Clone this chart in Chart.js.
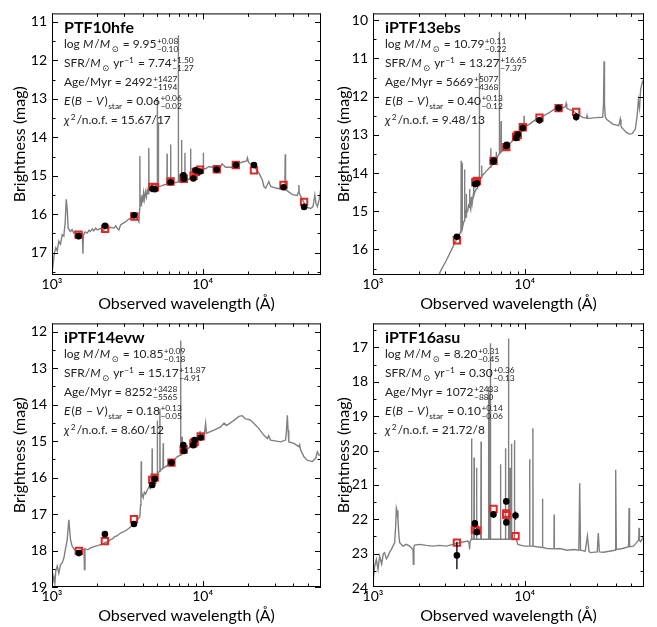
<!DOCTYPE html>
<html>
<head>
<meta charset="utf-8">
<script src="https://cdn.jsdelivr.net/npm/chart.js@4.4.1/dist/chart.umd.min.js"></script>
<style>
  body { margin: 0; background: #fff; }
  #wrap { position: relative; width: 657px; height: 627px; overflow: hidden; }
  canvas { position: absolute; }
</style>
</head>
<body>
<div id="wrap">
  <canvas id="c1"></canvas>
  <canvas id="c2"></canvas>
  <canvas id="c3"></canvas>
  <canvas id="c4"></canvas>
</div>
<script>
// --- fit parameters shown in each panel ---
const panelNames = ['PTF10hfe', 'iPTF13ebs', 'iPTF14evw', 'iPTF16asu'];
const logMass = [['9.95', '+0.08', '−0.10'], ['10.79', '+0.11', '−0.22'], ['10.85', '+0.09', '−0.18'], ['8.20', '+0.31', '−0.45']];
const sfr = [['7.74', '+1.50', '−1.27'], ['13.27', '+16.65', '−7.37'], ['15.17', '+11.87', '−4.91'], ['0.30', '+0.36', '−0.13']];
const age = [['2492', '+1427', '−1194'], ['5669', '+5077', '−4368'], ['8252', '+3428', '−5565'], ['1072', '+2433', '−880']];
const ebv = [['0.06', '+0.06', '−0.02'], ['0.40', '+0.13', '−0.12'], ['0.18', '+0.13', '−0.05'], ['0.10', '+0.14', '−0.06']];
const chi2 = ['15.67/17', '9.48/13', '8.60/12', '21.72/8'];

// --- tick labels ---
const xTickValues = [1000, 10000];
const xTickLabels = ['10³', '10⁴'];
const yTicks1 = [11, 12, 13, 14, 15, 16, 17];
const yTicks2 = [10, 11, 12, 13, 14, 15, 16];
const yTicks3 = [12, 13, 14, 15, 16, 17, 18, 19];
const yTicks4 = [17, 18, 19, 20, 21, 22, 23, 24];

// --- observed photometry [wavelength, mag, err] ---
const obs1 = [[1500, 16.57, 0.08], [2250, 16.30, 0.07], [3500, 16.03, 0.03], [4650, 15.34, 0.03], [4820, 15.35, 0.03],
  [6120, 15.17, 0.03], [7450, 14.99, 0.04], [7500, 15.08, 0.03], [8680, 15.07, 0.03], [8980, 14.86, 0.03],
  [9600, 14.89, 0.03], [12400, 14.84, 0.04], [16600, 14.72, 0.04], [21900, 14.72, 0.08], [34400, 15.30, 0.07], [47100, 15.81, 0.07]];
const obs2 = [[3570, 15.67, 0.04], [4720, 14.29, 0.03], [4830, 14.27, 0.03], [6220, 13.70, 0.03], [6250, 13.67, 0.03],
  [7550, 13.30, 0.03], [7600, 13.26, 0.03], [8770, 13.08, 0.03], [8990, 12.99, 0.03], [9700, 12.82, 0.03],
  [12500, 12.62, 0.07], [16700, 12.30, 0.08], [21800, 12.53, 0.1]];
const obs3 = [[1507, 18.07, 0.08], [2244, 17.55, 0.07], [3500, 17.27, 0.05], [4630, 16.20, 0.04], [4800, 16.03, 0.04],
  [6200, 15.59, 0.03], [7440, 15.11, 0.03], [7510, 15.27, 0.03], [8670, 15.11, 0.03], [8850, 14.97, 0.03], [9700, 14.90, 0.03]];
const obs4 = [[3570, 23.05, 0.4], [4690, 22.12, 0.1], [4830, 22.37, 0.1], [6220, 21.86, 0.1], [7550, 21.48, 0.08],
  [7560, 22.09, 0.08], [8690, 21.89, 0.12]];

// --- model photometry [wavelength, mag] ---
const mod1 = [[1500, 16.53], [2250, 16.38], [3520, 16.06], [4650, 15.29], [4820, 15.30], [6120, 15.15], [7450, 15.07],
  [7500, 15.08], [8700, 15.00], [9000, 14.90], [9600, 14.84], [12400, 14.83], [16600, 14.72], [21900, 14.86], [34400, 15.24], [47100, 15.68]];
const mod2 = [[3570, 15.76], [4720, 14.24], [4830, 14.21], [6220, 13.68], [7550, 13.32], [8770, 13.05], [8990, 13.00],
  [9700, 12.80], [12500, 12.55], [16700, 12.30], [21800, 12.40]];
const mod3 = [[1507, 18.01], [2244, 17.74], [3500, 17.14], [4630, 16.06], [4800, 16.00], [6200, 15.59], [7480, 15.23],
  [8670, 15.06], [8850, 15.02], [9700, 14.87]];
const mod4 = [[3570, 22.68], [4690, 22.30], [4830, 22.33], [6220, 21.70], [7550, 21.83], [7560, 21.88], [8690, 22.49]];

// --- best-fit model spectra [wavelength, mag] ---
const spec1 = [[1000, 17.55], [1018, 17.28], [1039, 16.99], [1060, 16.87], [1083, 16.95], [1110, 16.70], [1139, 16.78], [1169, 16.53],
  [1198, 16.57], [1224, 16.20], [1243, 15.61], [1262, 15.86], [1281, 16.37], [1327, 16.45], [1360, 16.40], [1395, 16.49], [1430, 16.44],
  [1470, 16.53], [1510, 16.47], [1546, 16.55], [1590, 16.50], [1603, 17.03], [1616, 16.55], [1660, 16.46], [1713, 16.49], [1760, 16.42],
  [1800, 16.45], [1850, 16.38], [1895, 16.43], [1950, 16.36], [2000, 16.41], [2100, 16.37], [2200, 16.42], [2280, 16.35], [2330, 16.39],
  [2450, 16.34], [2580, 16.36], [2650, 16.30], [2700, 16.36], [2780, 16.41], [2851, 16.28], [2950, 16.24], [3077, 16.20], [3200, 16.14],
  [3322, 16.10], [3500, 16.05], [3600, 16.08], [3680, 16.12], [3775, 16.20], [3815, 15.86], [3830, 14.49], [3845, 15.75], [3880, 15.55],
  [3920, 15.80], [3960, 15.50], [4000, 15.70], [4050, 15.45], [4100, 15.62], [4170, 15.42], [4230, 15.55], [4290, 15.37], [4350, 15.47],
  [4380, 15.40], [4395, 14.28], [4410, 15.40], [4513, 15.32], [4600, 15.40], [4740, 15.28], [4850, 15.34], [4985, 15.30], [5000, 12.98],
  [5015, 15.30], [5068, 15.28], [5082, 13.61], [5096, 15.28], [5300, 15.27], [5500, 15.24], [5790, 15.22], [5805, 14.43], [5820, 15.22],
  [5950, 15.22], [6110, 15.20], [6127, 14.19], [6144, 15.20], [6440, 15.18], [6700, 15.17], [6880, 15.16], [6895, 11.35], [6910, 15.16],
  [7140, 15.15], [7228, 15.14], [7245, 14.07], [7262, 15.14], [7605, 15.12], [7625, 14.40], [7645, 15.12], [7900, 15.11], [8298, 15.06],
  [8318, 14.30], [8338, 15.05], [8530, 14.99], [9000, 14.92], [9692, 14.86], [10070, 14.82], [10100, 14.40], [10130, 14.82], [10462, 14.82],
  [11000, 14.76], [11560, 14.78], [12200, 14.80], [12900, 14.82], [13450, 14.69], [14204, 14.78], [15600, 14.78], [17100, 14.69],
  [18800, 14.63], [19500, 14.62], [19820, 14.53], [20100, 14.64], [21300, 14.74], [22467, 14.82], [23700, 14.94], [24900, 15.11],
  [25500, 15.28], [26178, 15.32], [26800, 15.24], [27500, 15.15], [28257, 15.28], [30501, 15.32], [33700, 15.35], [35100, 15.36],
  [35300, 14.44], [35500, 15.36], [39400, 15.49], [42400, 15.51], [43300, 15.42], [43500, 15.24], [43800, 15.45], [44695, 15.53],
  [47000, 15.70], [49400, 15.82], [52076, 15.85], [54000, 15.80], [55500, 15.50], [56500, 15.72], [57700, 15.80], [59500, 15.60], [61500, 15.20]];
const spec2 = [[2600, 16.85], [2800, 16.55], [3040, 16.29], [3300, 16.00], [3573, 15.72], [3700, 15.62], [3796, 15.52], [3810, 13.68],
  [3824, 15.50], [3858, 15.48], [3870, 13.74], [3882, 15.45], [3950, 15.30], [3995, 15.25], [4010, 13.91], [4025, 15.22], [4080, 15.05],
  [4110, 15.15], [4120, 14.55], [4130, 15.05], [4200, 15.00], [4260, 14.85], [4315, 14.90], [4330, 14.42], [4345, 14.85], [4400, 14.95],
  [4450, 14.62], [4500, 14.80], [4585, 14.55], [4600, 14.35], [4615, 14.60], [4700, 14.48], [4790, 14.42], [4880, 14.40], [4930, 14.22],
  [5005, 14.25], [5020, 11.38], [5035, 14.20], [5100, 14.15], [5187, 14.12], [5200, 13.80], [5213, 14.10], [5300, 14.05], [5580, 13.95],
  [5900, 13.85], [5965, 13.83], [5980, 13.35], [5995, 13.82], [6223, 13.75], [6465, 13.63], [6484, 13.44], [6503, 13.62], [6780, 13.50],
  [6800, 10.30], [6820, 13.49], [6960, 13.46], [6980, 12.64], [7000, 13.45], [7200, 13.40], [7550, 13.33], [8000, 13.22], [8330, 13.15],
  [8990, 12.99], [9700, 12.83], [9870, 12.80], [9890, 12.50], [9910, 12.80], [10740, 12.72], [11900, 12.59], [13160, 12.51], [14500, 12.42],
  [16060, 12.30], [17770, 12.30], [18500, 12.26], [18700, 12.18], [18900, 12.30], [19680, 12.34], [20770, 12.37], [22330, 12.47],
  [24240, 12.55], [25500, 12.56], [25700, 12.50], [25900, 12.57], [26700, 12.57], [29500, 12.55], [32600, 12.54], [33000, 12.20],
  [33270, 11.07], [33500, 12.20], [33900, 12.52], [34570, 12.59], [38000, 12.72], [41480, 12.76], [42000, 12.70], [42500, 12.59],
  [43000, 12.75], [43300, 12.80], [46500, 12.93], [48700, 12.98], [51000, 12.97], [53500, 12.85], [55000, 12.50], [56000, 12.10],
  [57000, 12.30], [58000, 11.80], [59500, 11.62], [61500, 11.50]];
const spec3 = [[1000, 18.98], [1028, 18.71], [1045, 18.90], [1060, 18.55], [1083, 18.43], [1110, 18.62], [1140, 18.38], [1169, 18.34],
  [1200, 18.20], [1230, 17.95], [1262, 17.70], [1293, 17.16], [1327, 17.70], [1360, 17.88], [1410, 17.98], [1483, 18.02], [1560, 17.98],
  [1630, 17.96], [1643, 18.52], [1655, 17.95], [1730, 17.98], [1803, 17.93], [1880, 17.90], [1950, 17.88], [2030, 17.86], [2100, 17.84],
  [2180, 17.82], [2250, 17.78], [2350, 17.76], [2447, 17.70], [2520, 17.68], [2600, 17.62], [2700, 17.60], [2851, 17.52], [3000, 17.48],
  [3150, 17.43], [3300, 17.36], [3496, 17.26], [3600, 17.20], [3700, 17.15], [3830, 17.07], [3870, 16.75], [3895, 16.52], [3910, 15.55],
  [3925, 16.50], [3960, 16.45], [4030, 16.55], [4100, 16.40], [4180, 16.45], [4290, 16.34], [4400, 16.25], [4500, 16.30], [4605, 16.20],
  [4620, 15.20], [4635, 16.20], [4700, 16.16], [4870, 15.97], [4985, 15.90], [5000, 14.43], [5015, 15.90], [5180, 15.82], [5200, 14.11],
  [5220, 15.82], [5258, 15.79], [5450, 15.74], [5470, 15.06], [5490, 15.74], [5800, 15.67], [6195, 15.59], [6500, 15.50], [6770, 15.43],
  [7115, 15.38], [7139, 12.24], [7165, 15.37], [7280, 15.35], [7300, 14.88], [7320, 15.35], [7510, 15.29], [8318, 15.15], [9200, 14.97],
  [9580, 14.90], [9600, 14.72], [9620, 14.88], [10280, 14.79], [10460, 14.52], [10600, 14.78], [11900, 14.70], [13160, 14.61],
  [13870, 14.50], [14400, 14.57], [16140, 14.43], [17400, 14.32], [18300, 14.30], [19280, 14.39], [20000, 14.40], [20800, 14.42],
  [23100, 14.61], [25500, 14.84], [26900, 14.93], [27400, 14.85], [28250, 14.97], [32900, 15.02], [35500, 14.97], [36000, 14.70],
  [36450, 14.29], [36900, 14.70], [37300, 15.02], [40300, 15.06], [43500, 15.15], [44000, 15.10], [44700, 15.24], [47000, 15.43],
  [49400, 15.52], [53400, 15.56], [56200, 15.47], [57700, 15.29], [59000, 15.38], [61000, 15.38]];
const spec4 = [[1000, 23.84], [1026, 23.36], [1052, 23.17], [1079, 23.46], [1106, 23.07], [1140, 23.30], [1170, 23.00], [1193, 22.97],
  [1225, 23.15], [1255, 23.07], [1290, 22.95], [1320, 22.88], [1389, 22.68], [1410, 22.20], [1425, 21.67], [1440, 21.75], [1460, 22.01],
  [1480, 22.45], [1498, 22.68], [1576, 22.78], [1656, 22.73], [1744, 22.78], [1834, 22.88], [1845, 23.31], [1860, 22.80], [1880, 22.75],
  [2027, 22.73], [2245, 22.76], [2484, 22.78], [2745, 22.76], [3040, 22.78], [3363, 22.73], [3573, 22.70], [3900, 22.66], [4215, 22.63],
  [4300, 22.70], [4325, 22.88], [4360, 22.65], [4440, 22.58], [4460, 19.65], [4480, 22.58], [4615, 22.58], [4633, 20.20], [4650, 22.58],
  [4790, 22.58], [4810, 20.50], [4830, 22.58], [5130, 22.58], [5150, 19.74], [5170, 22.58], [5750, 22.58], [5770, 18.14], [5790, 22.58],
  [5870, 22.58], [5886, 18.50], [5900, 22.58], [5930, 22.58], [5945, 16.88], [5960, 22.58], [6900, 22.58], [6920, 20.40], [6940, 22.58],
  [7445, 22.58], [7464, 19.93], [7483, 22.58], [7790, 22.58], [7813, 16.74], [7836, 22.58], [7980, 22.58], [8000, 20.50], [8020, 22.58],
  [8157, 22.58], [8177, 19.80], [8197, 22.58], [8535, 22.58], [8555, 19.70], [8575, 22.58], [8800, 22.58], [9000, 22.73], [9500, 22.76],
  [10000, 22.78], [10740, 22.78], [10770, 20.25], [10800, 22.78], [11280, 22.78], [11310, 19.35], [11340, 22.78], [12000, 22.80],
  [13000, 22.82], [13070, 21.40], [13140, 22.82], [14000, 22.85], [15560, 22.86], [15610, 21.86], [15660, 22.86], [17000, 22.85],
  [19000, 22.90], [21000, 22.88], [22700, 22.90], [23000, 20.95], [23300, 22.90], [25000, 22.93], [25850, 22.49], [26500, 22.94],
  [27000, 22.97], [30000, 22.95], [30500, 22.40], [31000, 22.95], [33000, 22.96], [36000, 22.93], [39300, 22.90], [39700, 20.56],
  [40100, 22.88], [44000, 22.85], [48300, 22.80], [48630, 21.67], [49000, 22.80], [52000, 22.78], [54000, 22.70], [56300, 22.60],
  [56570, 22.25], [56900, 22.60], [58000, 22.65], [61000, 22.48]];

const obsAll = [obs1, obs2, obs3, obs4];
const modAll = [mod1, mod2, mod3, mod4];
const specAll = [spec1, spec2, spec3, spec4];
const yTicksAll = [yTicks1, yTicks2, yTicks3, yTicks4];

// canvas placement and axis ranges
const layouts = [
  { id: 'c1', left: 0, top: 0, w: 330, h: 315, padTop: 6, padRight: 9, yWidth: 52, yTitlePad: 10, yMin: 10.78, yMax: 17.58 },
  { id: 'c2', left: 328, top: 0, w: 329, h: 315, padTop: 6, padRight: 13, yWidth: 45, yTitlePad: 6, yMin: 9.82, yMax: 16.67 },
  { id: 'c3', left: 0, top: 310, w: 330, h: 317, padTop: 13, padRight: 9, yWidth: 52, yTitlePad: 10, yMin: 11.77, yMax: 19.0 },
  { id: 'c4', left: 328, top: 310, w: 329, h: 317, padTop: 13, padRight: 13, yWidth: 45, yTitlePad: 6, yMin: 16.30, yMax: 23.97 }
];

const FONT = 'Lato, "DejaVu Sans", sans-serif';
Chart.defaults.font.family = FONT;
Chart.defaults.color = '#000';

const toXY = arr => arr.map(p => ({ x: p[0], y: p[1] }));

// text with italics and stacked super/subscripts
function drawRuns(ctx, x, y, runs, size) {
  for (const r of runs) {
    if (r.t !== undefined) {
      ctx.font = (r.i ? 'italic ' : '') + size + 'px ' + FONT;
      ctx.fillText(r.t, x, y);
      x += ctx.measureText(r.t).width + (r.i ? 1 : 0);
    } else {
      const s = size * 0.7;
      ctx.font = s + 'px ' + FONT;
      let w = 0;
      if (r.sup) { ctx.fillText(r.sup, x + 0.5, y - size * 0.38); w = ctx.measureText(r.sup).width; }
      if (r.sub) { ctx.fillText(r.sub, x + 0.5, y + size * 0.3); w = Math.max(w, ctx.measureText(r.sub).width); }
      x += w + 1.5;
    }
  }
}

function makePlugin(k) {
  return {
    id: 'sed' + k,
    afterDatasetsDraw(chart) {
      const { ctx, chartArea: a, scales: { x, y } } = chart;
      ctx.save();
      // error bars
      ctx.strokeStyle = '#000';
      ctx.lineWidth = 1.3;
      ctx.beginPath();
      obsAll[k].forEach(([w, m, e]) => {
        const px = x.getPixelForValue(w);
        ctx.moveTo(px, y.getPixelForValue(m - e));
        ctx.lineTo(px, y.getPixelForValue(m + e));
      });
      ctx.stroke();

      // frame
      ctx.lineWidth = 1;
      ctx.strokeRect(a.left + 0.5, a.top + 0.5, a.right - a.left - 1, a.bottom - a.top - 1);
      // inward ticks on all four sides
      ctx.beginPath();
      for (let e = 3; e <= 4; e++) {
        for (let m = 1; m <= 9; m++) {
          const v = m * Math.pow(10, e);
          if (v > x.max) continue;
          const p = Math.round(x.getPixelForValue(v)) + 0.5;
          const len = m === 1 ? 6 : 3.5;
          ctx.moveTo(p, a.bottom); ctx.lineTo(p, a.bottom - len);
          ctx.moveTo(p, a.top); ctx.lineTo(p, a.top + len);
        }
      }
      for (let v = Math.ceil(y.min * 2) / 2; v <= y.max; v += 0.5) {
        const p = Math.round(y.getPixelForValue(v)) + 0.5;
        const len = Number.isInteger(v) ? 6 : 3.5;
        ctx.moveTo(a.left, p); ctx.lineTo(a.left + len, p);
        ctx.moveTo(a.right, p); ctx.lineTo(a.right - len, p);
      }
      ctx.stroke();

      // annotation text
      const tx = a.left + 12;
      ctx.fillStyle = '#000';
      ctx.textBaseline = 'alphabetic';
      ctx.textAlign = 'left';
      ctx.font = 'bold 16px ' + FONT;
      ctx.fillText(panelNames[k], tx, a.top + 20);
      ctx.fillStyle = '#222';
      const fs = 12;
      const lines = [
        [{ t: 'log ' }, { t: 'M', i: 1 }, { t: '/' }, { t: 'M', i: 1 }, { sub: '⊙' }, { t: ' = ' + logMass[k][0] }, { sup: logMass[k][1], sub: logMass[k][2] }],
        [{ t: 'SFR/' }, { t: 'M', i: 1 }, { sub: '⊙' }, { t: ' yr' }, { sup: '−1' }, { t: ' = ' + sfr[k][0] }, { sup: sfr[k][1], sub: sfr[k][2] }],
        [{ t: 'Age/Myr = ' + age[k][0] }, { sup: age[k][1], sub: age[k][2] }],
        [{ t: 'E', i: 1 }, { t: '(' }, { t: 'B', i: 1 }, { t: ' − ' }, { t: 'V', i: 1 }, { t: ')' }, { sub: 'star' }, { t: ' = ' + ebv[k][0] }, { sup: ebv[k][1], sub: ebv[k][2] }],
        [{ t: 'χ', i: 1 }, { sup: '2' }, { t: '/n.o.f. = ' + chi2[k] }]
      ];
      lines.forEach((runs, i) => drawRuns(ctx, tx, a.top + 35 + i * 19, runs, fs));
      ctx.restore();
    }
  };
}

function makeChart(k) {
  const L = layouts[k];
  const cv = document.getElementById(L.id);
  cv.width = L.w;
  cv.height = L.h;
  cv.style.left = L.left + 'px';
  cv.style.top = L.top + 'px';
  return new Chart(cv, {
    type: 'scatter',
    data: {
      datasets: [
        { data: toXY(obsAll[k]), pointStyle: 'circle', pointRadius: 3.3, backgroundColor: '#000', borderWidth: 0, order: 0 },
        { data: toXY(modAll[k]), pointStyle: 'rect', pointRadius: 4.5, borderColor: '#e02828', backgroundColor: 'rgba(0,0,0,0)', borderWidth: 2, order: 1 },
        { data: toXY(specAll[k]), showLine: true, borderColor: '#808080', borderWidth: 1.4, pointRadius: 0, order: 2 }
      ]
    },
    options: {
      responsive: false,
      animation: false,
      events: [],
      devicePixelRatio: 1,
      layout: { padding: { left: 0, top: L.padTop, right: L.padRight, bottom: 0 } },
      plugins: { legend: { display: false }, tooltip: { enabled: false } },
      scales: {
        x: {
          type: 'logarithmic',
          min: 1000,
          max: 61000,
          afterBuildTicks: s => { s.ticks = xTickValues.map(v => ({ value: v })); },
          afterFit: s => { s.height = 40; },
          grid: { display: false, drawTicks: false },
          border: { display: false },
          ticks: {
            autoSkip: false, maxRotation: 0, padding: 1,
            font: { size: 14 }, color: '#000',
            callback: (v, i) => xTickLabels[i]
          },
          title: { display: true, text: 'Observed wavelength (Å)', font: { size: 16 }, color: '#000', padding: { top: 0, bottom: 2 } }
        },
        y: {
          type: 'linear',
          reverse: true,
          min: L.yMin,
          max: L.yMax,
          afterBuildTicks: s => { s.ticks = yTicksAll[k].map(v => ({ value: v })); },
          afterFit: s => { s.width = L.yWidth; },
          grid: { display: false, drawTicks: false },
          border: { display: false },
          ticks: { autoSkip: false, padding: 5, font: { size: 14 }, color: '#000', callback: v => String(v) },
          title: { display: true, text: 'Brightness (mag)', font: { size: 16 }, color: '#000', padding: { top: L.yTitlePad, bottom: 0 } }
        }
      }
    },
    plugins: [makePlugin(k)]
  });
}

[0, 1, 2, 3].forEach(makeChart);
</script>
</body>
</html>
